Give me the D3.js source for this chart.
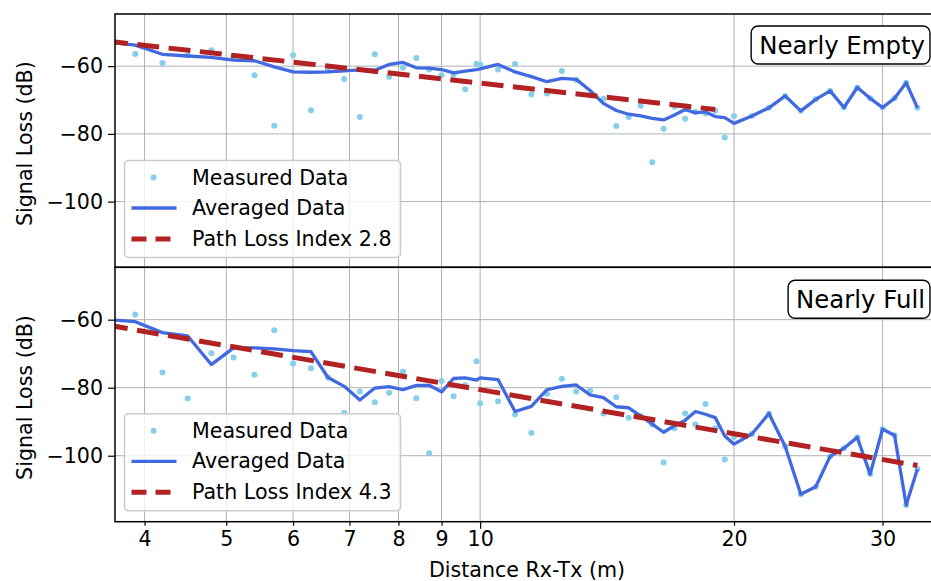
<!DOCTYPE html>
<html>
<head>
<meta charset="utf-8">
<script src="https://cdn.jsdelivr.net/npm/d3@7"></script>
<style>
  html, body { margin: 0; padding: 0; background: #ffffff; }
  svg { display: block; font-family: "DejaVu Sans", sans-serif; }
</style>
</head>
<body>
<svg id="chart" width="931" height="581"></svg>
<script>
// Distance of each measurement point (m)
const distances = [3.6, 3.9, 4.2, 4.5, 4.8, 5.1, 5.4, 5.7, 6.0, 6.3, 6.6, 6.9, 7.2, 7.5, 7.8,
  8.1, 8.4, 8.7, 9.0, 9.3, 9.6, 9.9, 10.0, 10.5, 11.0, 11.5, 12.0, 12.5, 13.0, 13.5, 14.0,
  14.5, 15.0, 15.5, 16.0, 16.5, 17.0, 17.5, 18.0, 18.5, 19.0, 19.5, 20.0,
  21, 22, 23, 24, 25, 26, 27, 28, 29, 30, 31, 32, 33];

// Nearly empty: measured and averaged signal loss (dB)
const emptyMeasured = [-52.5, -56.4, -59.1, -56.8, -55.3, -57.1, -62.7, -77.6, -56.8, -73.0,
  -61.2, -63.8, -75.0, -56.5, -63.1, -60.5, -57.6, -61.0, -62.7, -62.5, -66.8, -59.3, -59.5,
  -61.0, -59.4, -68.4, -68.1, -61.4, -64.1, -68.6, -69.6, -77.7, -75.0, -71.7, -88.4, -78.5,
  -72.0, -75.5, -73.5, -74.0, -73.2, -81.1, -74.7,
  -74.7, -72.3, -68.8, -73.2, -69.8, -67.3, -72.2, -66.3, -69.5, -72.2, -69.5, -64.9, -72.3];
const emptyAveraged = [-52.8, -53.8, -56.5, -57.0, -57.4, -58.2, -58.4, -60.2, -61.7, -61.8,
  -61.7, -61.4, -61.1, -61.2, -59.5, -58.9, -60.5, -60.6, -61.0, -62.0, -61.5, -61.0, -60.8,
  -59.5, -61.7, -63.1, -64.6, -63.6, -63.9, -67.2, -71.0, -73.1, -74.2, -74.7, -75.4, -75.9,
  -74.4, -72.8, -73.8, -73.5, -74.9, -75.2, -76.9,
  -74.7, -72.3, -68.8, -73.2, -69.8, -67.3, -72.2, -66.3, -69.5, -72.2, -69.5, -64.9, -72.3];

// Nearly full: measured and averaged signal loss (dB)
const fullMeasured = [-59.0, -58.5, -75.5, -83.2, -69.9, -71.1, -76.2, -63.1, -72.9, -74.3,
  -77.0, -87.4, -81.1, -84.3, -81.5, -75.3, -83.1, -99.3, -78.0, -82.5, -79.3, -72.2, -84.6,
  -84.0, -87.9, -93.3, -81.8, -77.4, -81.1, -80.8, -87.6, -82.8, -88.8, -88.3, -90.8, -102.0,
  -91.9, -87.6, -90.8, -84.8, -91.9, -101.1, -94.5,
  -93.6, -87.6, -97.3, -111.3, -109.1, -100.2, -97.8, -94.6, -105.4, -92.2, -94.0, -114.5, -103.9];
const fullAveraged = [-59.9, -60.6, -63.8, -64.8, -73.2, -68.3, -68.3, -68.6, -69.1, -69.4,
  -77.0, -79.6, -83.6, -80.1, -79.7, -80.6, -79.3, -79.3, -81.2, -77.3, -77.1, -77.8, -77.1,
  -77.6, -87.0, -85.5, -80.6, -79.6, -79.2, -82.1, -82.9, -85.6, -85.9, -88.3, -90.7, -93.1,
  -91.2, -89.6, -87.0, -87.8, -88.8, -94.2, -96.6,
  -93.6, -87.6, -97.3, -111.3, -109.1, -100.2, -97.8, -94.6, -105.4, -92.2, -94.0, -114.5, -103.9];

// Log-distance path loss fits: end points (distance m, loss dB)
const emptyFitX = [3.6, 19.0];
const emptyFitY = [-52.6, -72.8];
const fullFitX = [3.6, 33.0];
const fullFitY = [-61.5, -102.9];

// Axis ticks
const xTicks = [4, 5, 6, 7, 8, 9, 10, 20, 30];
const xTickLabels = ["4", "5", "6", "7", "8", "9", "10", "20", "30"];
const yTicks = [-60, -80, -100];

const panels = [
  { id: "empty", title: "Nearly Empty", measured: emptyMeasured, averaged: emptyAveraged,
    fitX: emptyFitX, fitY: emptyFitY, fitLabel: "Path Loss Index 2.8", top: 14, bottom: 267.3 },
  { id: "full", title: "Nearly Full", measured: fullMeasured, averaged: fullAveraged,
    fitX: fullFitX, fitY: fullFitY, fitLabel: "Path Loss Index 4.3", top: 267.3, bottom: 521.7 }
];

const svg = d3.select("#chart");
const left = 115, right = 939;
const x = d3.scaleLog().domain([3.69, 35]).range([left, right]);

const colors = { measured: "#87CEEB", averaged: "#4169E1", fit: "#B22222", grid: "#b0b0b0" };
const labelSize = 20.6;

panels.forEach((p, i) => {
  const y = d3.scaleLinear().domain([-119.4, -44.6]).range([p.bottom, p.top]);
  const g = svg.append("g");

  g.append("clipPath").attr("id", "clip-" + p.id)
    .append("rect").attr("x", left).attr("y", p.top).attr("width", right - left).attr("height", p.bottom - p.top);

  // grid
  const grid = g.append("g");
  xTicks.forEach(t => grid.append("line")
    .attr("x1", x(t)).attr("x2", x(t)).attr("y1", p.top).attr("y2", p.bottom)
    .attr("stroke", colors.grid).attr("stroke-width", 1));
  yTicks.forEach(t => grid.append("line")
    .attr("x1", left).attr("x2", right).attr("y1", y(t)).attr("y2", y(t))
    .attr("stroke", colors.grid).attr("stroke-width", 1));

  const plot = g.append("g").attr("clip-path", "url(#clip-" + p.id + ")");

  plot.selectAll("circle").data(distances).join("circle")
    .attr("cx", d => x(d)).attr("cy", (d, k) => y(p.measured[k]))
    .attr("r", 3).attr("fill", colors.measured);

  const line = d3.line().x(d => x(d[0])).y(d => y(d[1]));
  plot.append("path")
    .datum(distances.map((d, k) => [d, p.averaged[k]]))
    .attr("d", line).attr("fill", "none")
    .attr("stroke", colors.averaged).attr("stroke-width", 3.3).attr("stroke-linejoin", "round");

  plot.append("path")
    .datum(p.fitX.map((d, k) => [d, p.fitY[k]]))
    .attr("d", line).attr("fill", "none")
    .attr("stroke", colors.fit).attr("stroke-width", 5).attr("stroke-dasharray", "22,9.5");

  // y axis
  const yAxis = d3.axisLeft(y).tickValues(yTicks).tickSize(7).tickPadding(5)
    .tickFormat(d => d3.format("")(d).replace("-", "\u2212"));
  const ya = g.append("g").attr("transform", `translate(${left},0)`).call(yAxis);
  ya.select(".domain").remove();
  ya.selectAll("line").attr("stroke", "#000").attr("stroke-width", 1.2);
  ya.selectAll("text").attr("font-size", labelSize).attr("fill", "#000").attr("font-family", "DejaVu Sans");

  g.append("text")
    .attr("transform", `translate(25,${(p.top + p.bottom) / 2 + 3}) rotate(-90)`)
    .attr("text-anchor", "middle").attr("dominant-baseline", "central")
    .attr("font-size", labelSize).text("Signal Loss (dB)");

  // frame
  g.append("rect").attr("x", left).attr("y", p.top).attr("width", right - left).attr("height", p.bottom - p.top)
    .attr("fill", "none").attr("stroke", "#000").attr("stroke-width", 1.5);

  // legend
  const lgTop = p.top + 146.5;
  const lg = g.append("g");
  lg.append("rect").attr("x", 124.5).attr("y", lgTop).attr("width", 276).attr("height", 97)
    .attr("rx", 4).attr("fill", "#ffffff").attr("fill-opacity", 0.8)
    .attr("stroke", "#cccccc").attr("stroke-width", 1.5);
  const rows = [lgTop + 17, lgTop + 47.5, lgTop + 78.5];
  lg.append("circle").attr("cx", 153.5).attr("cy", rows[0]).attr("r", 3).attr("fill", colors.measured);
  lg.append("line").attr("x1", 131.5).attr("x2", 176.5).attr("y1", rows[1]).attr("y2", rows[1])
    .attr("stroke", colors.averaged).attr("stroke-width", 3.3);
  lg.append("line").attr("x1", 131.5).attr("x2", 176.5).attr("y1", rows[2]).attr("y2", rows[2])
    .attr("stroke", colors.fit).attr("stroke-width", 5).attr("stroke-dasharray", "15,9");
  ["Measured Data", "Averaged Data", p.fitLabel].forEach((t, k) => lg.append("text")
    .attr("x", 192).attr("y", rows[k]).attr("dominant-baseline", "central")
    .attr("font-size", labelSize).text(t));

  // title box
  const tb = g.append("g");
  const tt = tb.append("text").attr("x", 925).attr("y", p.top + (i === 0 ? 39.5 : 40.5))
    .attr("text-anchor", "end").attr("font-size", 24.4).text(p.title);
  const bb = tt.node().getBBox();
  tb.insert("rect", "text").attr("x", bb.x - 8).attr("y", bb.y - 4.5).attr("width", bb.width + 13)
    .attr("height", bb.height + 9).attr("rx", 7)
    .attr("fill", "#ffffff").attr("stroke", "#000").attr("stroke-width", 1.4);

  // x axis on the lower panel only
  if (i === 1) {
    const xAxis = d3.axisBottom(x).tickValues(xTicks).tickFormat((d, k) => xTickLabels[k])
      .tickSize(4).tickPadding(6);
    const xa = g.append("g").attr("transform", `translate(0,${p.bottom})`).call(xAxis);
    xa.select(".domain").remove();
    xa.selectAll("line").attr("stroke", "#000").attr("stroke-width", 1.2)
      .attr("y2", d => d === 10 ? 7 : 4);
    xa.selectAll("text").attr("font-size", labelSize).attr("fill", "#000").attr("font-family", "DejaVu Sans");
    g.append("text").attr("x", 527).attr("y", 570).attr("text-anchor", "middle")
      .attr("dominant-baseline", "central").attr("font-size", labelSize).text("Distance Rx-Tx (m)");
  }
});
</script>
</body>
</html>
